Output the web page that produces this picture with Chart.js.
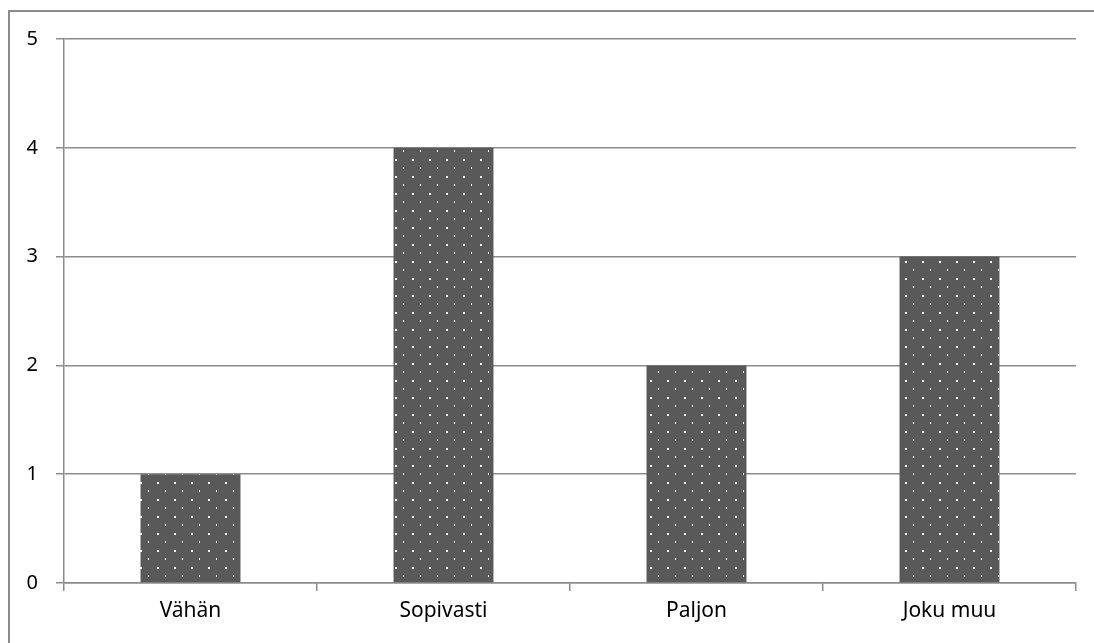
<!DOCTYPE html>
<html>
<head>
<meta charset="utf-8">
<script src="https://cdn.jsdelivr.net/npm/chart.js"></script>
<style>
  html, body { margin: 0; padding: 0; background: #fff; }
  #wrap { position: relative; width: 1094px; height: 643px; }
  #frame { position: absolute; left: 8px; top: 10px; right: 0; bottom: 0;
           border-left: 2px solid #8c8c8c; border-top: 2px solid #8c8c8c; pointer-events: none; }
  canvas { position: absolute; left: 0; top: 0; }
</style>
</head>
<body>
<div id="wrap">
  <canvas id="c" width="1094" height="643"></canvas>
  <div id="frame"></div>
</div>
<script>
const categories = ["Vähän", "Sopivasti", "Paljon", "Joku muu"];
const values = [1, 4, 2, 3];
const yTicks = [0, 1, 2, 3, 4, 5];

function makePattern() {
  const p = document.createElement('canvas');
  p.width = 17; p.height = 17;
  const g = p.getContext('2d');
  g.fillStyle = '#595959';
  g.fillRect(0, 0, 17, 17);
  g.fillStyle = '#ffffff';
  g.fillRect(4, 6, 2, 2);
  g.fillRect(12, 14, 1, 2);
  return g.createPattern(p, 'repeat');
}

const ctx = document.getElementById('c').getContext('2d');
new Chart(ctx, {
  type: 'bar',
  data: {
    labels: categories,
    datasets: [{ data: values, backgroundColor: makePattern(), borderWidth: 0,
                 barPercentage: 0.395, categoryPercentage: 1 }]
  },
  options: {
    responsive: false,
    animation: false,
    devicePixelRatio: 1,
    layout: { padding: { left: 0, top: 39, right: 18, bottom: 0 } },
    plugins: { legend: { display: false }, tooltip: { enabled: false } },
    scales: {
      x: {
        grid: { offset: true, drawOnChartArea: false, color: '#8c8c8c', lineWidth: 1.5, tickLength: 8 },
        border: { color: '#8c8c8c', width: 1.5 },
        ticks: { color: '#000', font: { family: 'Noto Sans', size: 21 }, padding: 7 },
        afterFit: s => { s.height = 60; }
      },
      y: {
        min: 0, max: 5,
        afterBuildTicks: s => { s.ticks = yTicks.map(v => ({ value: v })); },
        grid: { color: '#8c8c8c', lineWidth: 1.5, tickLength: 8 },
        border: { color: '#8c8c8c', width: 1.5 },
        ticks: { color: '#000', font: { family: 'Noto Sans', size: 20 }, padding: 18 },
        afterFit: s => { s.width = 64; }
      }
    }
  }
});
</script>
</body>
</html>
